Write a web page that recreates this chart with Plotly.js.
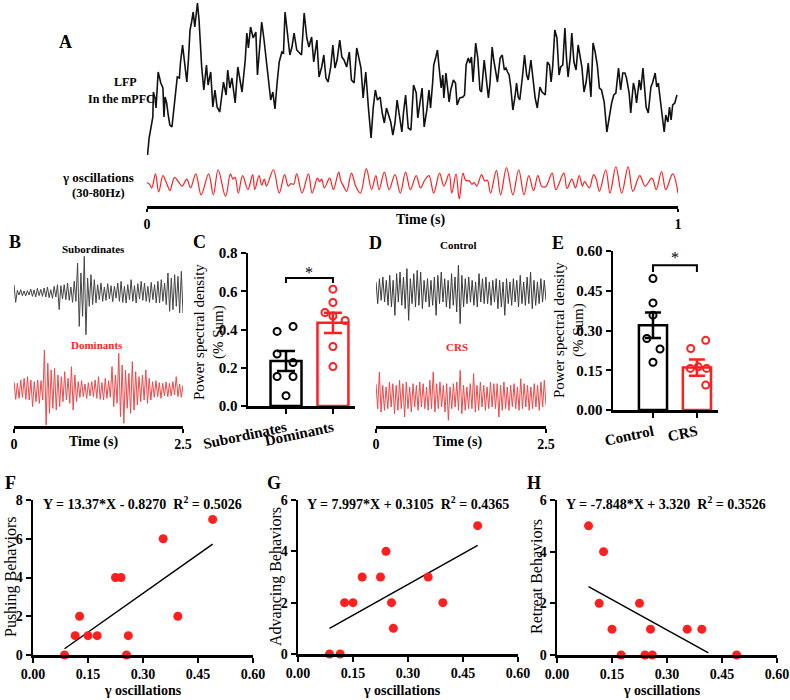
<!DOCTYPE html>
<html><head><meta charset="utf-8">
<script src="https://cdn.plot.ly/plotly-3.0.1.min.js"></script>
<style>body{margin:0;background:#fff}#chart{width:790px;height:700px}</style>
</head><body><div id="chart"></div>
<script>
// ---------- Panel A : LFP (time in ms, amplitude in a.u.) ----------
const lfpTimeMs = [
1,4,11,12,15,17,21,26,30,32,34,37,40,43,47,50,57,61,63,67,
70,75,78,81,84,87,90,95,98,103,107,112,115,120,124,128,132,137,144,149,
152,156,160,166,171,175,179,185,188,191,195,200,205,208,211,216,220,225,228,233,
237,241,245,249,254,257,260,264,269,273,277,282,287,291,296,301,305,310,314,320,
324,329,333,337,341,346,350,354,358,363,367,371,376,381,385,390,395,399,403,407,
412,417,422,426,430,434,439,443,447,451,454,459,463,467,471,475,480,483,487,492,
497,
502,507,510,514,518,522,527,531,534,538,540,544,547,550,554,557,559,563,566,569,
572,577,581,584,589,595,598,601,605,608,611,614,619,623,627,630,635,640,643,646,
650,653,657,660,665,669,673,676,679,682,685,689,693,696,699,702,707,711,715,718,
723,726,731,735,740,744,750,754,758,761,764,768,772,776,779,783,787,790,793,797,
800,804,808,812,815,819,823,827,831,836,840,844,848,852,856,861,866,870,875,879,
883,888,892,896,900,903,908,911,916,919,922,927,930,934,937,940,944,949,952,957,
960,963,966,970,974,977,981,984,987,990,994,998];
const lfpAmp = [
5,22,43,68,62,52,88,77,72,43,63,57,45,35,33,47,83,82,97,115,
102,78,100,130,138,148,133,157,140,93,70,95,75,88,53,70,53,48,78,65,
90,72,82,57,93,80,68,100,127,112,133,122,128,85,107,138,122,100,82,60,
68,51,77,98,108,107,148,128,105,113,127,110,107,105,147,122,113,123,98,120,
83,93,105,82,78,93,115,92,100,120,103,100,93,108,80,77,112,100,92,62,
88,52,22,52,70,60,63,47,37,52,47,38,25,37,60,47,28,47,65,32,
30,
75,67,42,58,72,33,50,70,52,78,95,103,110,93,72,85,62,87,72,58,
70,80,77,55,62,63,65,95,102,97,103,78,117,102,70,68,100,73,62,77,
113,100,85,78,102,105,90,92,88,85,73,50,63,77,63,60,83,105,85,80,
100,87,62,52,73,68,65,98,95,78,93,130,122,85,93,95,132,102,83,102,
127,98,90,115,107,93,68,78,97,63,117,108,95,72,70,58,28,42,57,65,
67,92,70,87,87,82,67,47,77,70,57,80,70,92,73,53,47,73,77,87,
73,77,63,47,28,45,38,53,40,55,57,65];

// ---------- Panel A : gamma oscillations 30-80 Hz ----------
const gammaTimeMs = [
0,5,9,16,22,30,35,39,43,52,59,66,75,82,92,102,116,125,134,148,
157,162,166,172,180,190,199,203,211,216,221,225,238,249,259,266,271,276,282,292,
304,311,321,325,329,334,344,351,361,365,370,376,385,393,402,413,423,431,437,447,
456,467,477,487,496,507,515,523,531,540,551,559,569,574,582,588,595,600,607,612,
616,621,630,636,641,647,658,666,677,689,700,710,719,728,736,743,748,752,763,770,
785,791,800,807,814,820,824,833,841,846,852,864,872,883,894,906,915,928,938,951,
959,969,977,990,1000];
const gammaAmp = [
5,0,-10,30,-22,25,10,-5,-18,20,8,-5,15,-10,30,-30,30,-30,42,-35,
30,15,20,-25,25,-15,28,-15,25,-2,15,-5,42,-25,28,-5,2,0,30,-25,
30,-25,18,8,15,-10,18,-15,35,10,-5,-20,32,-5,-25,45,-15,25,-15,35,
-15,28,-25,35,-15,25,-10,12,25,-25,32,-5,30,-25,30,-42,32,12,10,0,
5,-5,28,10,12,-25,40,-30,48,-30,42,-30,25,-18,25,-5,-8,-5,32,-15,
32,-12,15,-10,25,-5,8,-10,28,15,-20,42,-25,50,-25,50,-20,25,-5,18,
-15,37,-15,30,-25];

// ---------- Panels B and D : example gamma traces (0-2.5 s) ----------
const traceDurationS = 2.5;
const subordinatesTrace = [
25,-28, 8,-6,10,-8,6,-9,7,-6, 12,-10,9,-12,14,-8,11,-10, 15,-12,18,-14,10,-16,20,-12,
25,-50,22,-18, 25,-20,30,-22,18,-28,35,-25, 90,-100,60, -70,110,-125,
45,-40,55,-35,40,-30, 25,-20,30,-25,18,-22,28,-18,22,-26,20,-15,
30,-25,35,-28,20,-30,25,-20, 40,-25,22,-30,28,-18,35,-22, 30,-25,20,-28,32,-20,25,-30,
35,-30,40,-25,30,-35, 60,-55, 45,-50,55,-40,50,-60,65,-60];
const dominantsTrace = [
25,-28,20,-25,30,-22, 35,-28,40,-30, 30,-50,25,-35,30,-40,28,-30, 120,-105,80,
-70,60,-55,65,-60,45,-50, 40,-35,55,-30,35,-40, 70,-60,45,-35,
25,-22,28,-20,18,-25,22,-18,25,-20, 30,-25,40,-28,22,-30,35,-25,28,-22,
70,-50,45,-40, 110,-80,75,-100, 60,-55,50,-70,85,-60,55,-45, 40,-35,45,-30,60,-40,35,-30,
25,-22,28,-20,22,-25,20,-18,24,-20, 20,-18,25,-15,40,-20,18,-22,15];
const controlTrace = [
30,-35,40,-25,45,-30,35,-40, 50,-45,35,-70,55,-30,60,-40, 45,-50,70,-85,40,-35,55,-45,
65,-40,60,-50,35,-30,40,-45, 35,-40,45,-70,50,-35,60,-30, 40,-45,35,-50,55,-40,45,-60,
80,-95,50,-45,40,-35,45,-30, 35,-40,30,-45,55,-30,40,-35, 45,-35,30,-40,35,-30,40,-50,
35,-45,30,-70,40,-35,30,-40, 40,-30,35,-45,50,-35,30,-40, 45,-35,60,-50,35,-40,30,-35,
40,-30,35,-25];
const crsTrace = [
40,-35,75,-45,35,-40,30,-35, 45,-30,40,-50,35,-40,50,-35, 40,-60,45,-35,30,-45,40,-30,
35,-40,45,-30,40,-35,30,-40, 50,-35,75,-45,40,-35,45,-30, 35,-45,40,-70,30,-35,40,-30,
45,-40,80,-50,35,-40,30,-35, 40,-35,70,-45,35,-40,45,-30, 35,-40,30,-35,45,-30,40,-35,
40,-60,35,-40,45,-35,30,-40, 35,-30,40,-35,30,-40,55,-35, 40,-30,35,-40,30,-35,40,-30,
35,-40,45,-30,50,-25];

// ---------- Panel C ----------
const groupsC = ['Subordinates', 'Dominants'];
const meanC = [0.235, 0.435];
const semC = [0.052, 0.053];
const pointsSub = [0.39, 0.416, 0.272, 0.227, 0.154, 0.154, 0.054];
const pointsDom = [0.611, 0.541, 0.489, 0.47, 0.447, 0.311, 0.206];

// ---------- Panel E ----------
const groupsE = ['Control', 'CRS'];
const meanE = [0.32, 0.16];
const semE = [0.048, 0.031];
const pointsControl = [0.496, 0.404, 0.358, 0.27, 0.23, 0.18];
const pointsCRS = [0.232, 0.263, 0.157, 0.163, 0.157, 0.094];

// ---------- Panels F, G, H ----------
const gammaOsc = [0.086, 0.115, 0.127, 0.15, 0.175, 0.225, 0.24, 0.255, 0.26, 0.355, 0.395, 0.49];
const pushing = [0, 1, 2, 1, 1, 4, 4, 0, 1, 6, 2, 7];
const advancing = [0, 0, 2, 2, 3, 3, 4, 2, 1, 3, 2, 5];
const retreat = [5, 2, 4, 1, 0, 2, 0, 1, 0, 1, 1, 0];
const fitSlope = [13.37, 7.997, -7.848];
const fitIntercept = [-0.8270, 0.3105, 3.320];
const fitXEnd = [0.49, 0.49, 0.413];
const eqLabels = ['Y = 13.37*X - 0.8270  R<sup>2</sup> = 0.5026',
                  'Y = 7.997*X + 0.3105  R<sup>2</sup> = 0.4365',
                  'Y = -7.848*X + 3.320  R<sup>2</sup> = 0.3526'];
const behaviorTitles = ['Pushing Behaviors', 'Advancing Behaviors', 'Retreat Behaviors'];

// ---------- layout helpers (style only) ----------
const W = 790, H = 700;
const PX = p => p / W;
const PY = p => 1 - p / H;
const SERIF = 'Liberation Serif, Times New Roman, serif';
const RED = '#ff1f1f';
const jitterSub = [-0.19, 0.15, -0.19, 0.15, -0.19, 0.15, 0];
const jitterDom = [0, 0, -0.17, 0, 0.26, 0, 0];
const jitterControl = [0, 0, 0, -0.14, 0.16, 0];
const jitterCRS = [-0.14, 0.2, -0.15, 0.03, 0.22, 0.2];

const sampleTimes = arr => arr.map((_, i) => i * traceDurationS / (arr.length - 1));

const traces = [];
traces.push({type:'scatter', mode:'lines', x: lfpTimeMs.map(t => t/1000), y: lfpAmp,
  xaxis:'x', yaxis:'y', line:{color:'#111', width:1.6}, hoverinfo:'skip'});
traces.push({type:'scatter', mode:'lines', x: gammaTimeMs.map(t => t/1000), y: gammaAmp,
  xaxis:'x', yaxis:'y2', line:{color:RED, width:1.2, shape:'spline', smoothing:1}, hoverinfo:'skip'});

traces.push({type:'scatter', mode:'lines', x: sampleTimes(subordinatesTrace), y: subordinatesTrace,
  xaxis:'x2', yaxis:'y3', line:{color:'#444', width:1}});
traces.push({type:'scatter', mode:'lines', x: sampleTimes(dominantsTrace), y: dominantsTrace,
  xaxis:'x2', yaxis:'y4', line:{color:'#f04848', width:1}});
traces.push({type:'scatter', mode:'lines', x: sampleTimes(controlTrace), y: controlTrace,
  xaxis:'x4', yaxis:'y6', line:{color:'#3a3a3a', width:1}});
traces.push({type:'scatter', mode:'lines', x: sampleTimes(crsTrace), y: crsTrace,
  xaxis:'x4', yaxis:'y7', line:{color:'#f04848', width:1}});

function barPanel(means, sems, pts, jit, xa, ya, bw, capW) {
  const cols = ['#000', RED];
  means.forEach((m, i) => {
    traces.push({type:'bar', x:[i], y:[m], width:bw, xaxis:xa, yaxis:ya,
      marker:{color:'rgba(255,255,255,0)', line:{color:cols[i], width:2.5}},
      error_y:{type:'data', array:[sems[i]], visible:true, color:cols[i], thickness:2.5, width:capW}});
  });
  pts.forEach((p, i) => {
    traces.push({type:'scatter', mode:'markers', x: p.map((_, k) => i + jit[i][k]), y: p,
      xaxis:xa, yaxis:ya, cliponaxis:false,
      marker:{symbol:'circle-open', size:7, color:cols[i], line:{width:2, color:cols[i]}}});
  });
}
barPanel(meanC, semC, [pointsSub, pointsDom], [jitterSub, jitterDom], 'x3', 'y5', 0.66, 9);
barPanel(meanE, semE, [pointsControl, pointsCRS], [jitterControl, jitterCRS], 'x5', 'y8', 0.64, 8);

const behaviors = [pushing, advancing, retreat];
const xMin = Math.min(...gammaOsc);
behaviors.forEach((b, i) => {
  const xa = 'x' + (6 + i), ya = 'y' + (9 + i);
  traces.push({type:'scatter', mode:'lines', x:[xMin, fitXEnd[i]],
    y:[fitSlope[i]*xMin + fitIntercept[i], fitSlope[i]*fitXEnd[i] + fitIntercept[i]],
    xaxis:xa, yaxis:ya, line:{color:'#000', width:1.5}});
  traces.push({type:'scatter', mode:'markers', x:gammaOsc, y:b, xaxis:xa, yaxis:ya,
    cliponaxis:false, marker:{color:RED, size:9}});
});

const tf = (s) => ({family:SERIF, size:s, color:'#000', weight:'bold'});
const hidden = (dom, rng, anchor) => ({domain:dom, range:rng, visible:false, anchor:anchor, fixedrange:true});
const timeAxis = (dom, pos, rng, vals, txt, lw, tl) => ({domain:dom, range:rng, anchor:'free', position:pos,
  showline:true, linecolor:'#000', linewidth:lw, ticks:'outside', tickvals:vals, ticktext:txt,
  ticklen:tl, tickwidth:2.5, tickcolor:'#000', tickfont:tf(14), showgrid:false, zeroline:false, fixedrange:true});
const catX = (dom, rng, anchor, labels) => ({domain:dom, range:rng, anchor:anchor, showline:true,
  linecolor:'#000', linewidth:2.5, ticks:'outside', ticklen:5, tickwidth:2, tickcolor:'#000',
  tickvals:[0,1], ticktext:labels, tickangle:-12, tickfont:tf(15), showgrid:false, zeroline:false, fixedrange:true});
const numAxis = (dom, rng, anchor, dt, fmt, fs) => ({domain:dom, range:rng, anchor:anchor, showline:true,
  linecolor:'#000', linewidth:2.5, ticks:'outside', ticklen:5, tickwidth:2, tickcolor:'#000',
  dtick:dt, tick0:0, tickformat:fmt, tickfont:tf(fs), showgrid:false, zeroline:false, fixedrange:true});

const layout = {
  width:W, height:H, margin:{l:0, r:0, t:0, b:0}, showlegend:false, hovermode:false,
  paper_bgcolor:'#fff', plot_bgcolor:'rgba(0,0,0,0)', barmode:'overlay',
  xaxis: timeAxis([PX(147), PX(678)], PY(207), [0, 1], [0, 1], ['0', '1'], 3, 3),
  yaxis: hidden([PY(160), PY(0)], [0, 160], 'x'),
  yaxis2: hidden([PY(200), PY(160)], [-45, 70], 'x'),
  xaxis2: timeAxis([PX(14), PX(183)], PY(427), [0, traceDurationS], [0, 2.5], ['0', '2.5'], 2.5, 4),
  yaxis3: hidden([PY(340), PY(250)], [-141, 129], 'x2'),
  yaxis4: hidden([PY(427), PY(345)], [-111, 135], 'x2'),
  xaxis3: catX([PX(248), PX(355)], [-0.81, 1.47], 'y5', groupsC),
  yaxis5: numAxis([PY(406), PY(253)], [0, 0.8], 'x3', 0.2, '.1f', 15),
  xaxis4: timeAxis([PX(376), PX(546)], PY(427), [0, traceDurationS], [0, 2.5], ['0', '2.5'], 2.5, 4),
  yaxis6: hidden([PY(340), PY(250)], [-144, 126], 'x4'),
  yaxis7: hidden([PY(427), PY(345)], [-90, 156], 'x4'),
  xaxis5: catX([PX(613), PX(718)], [-0.91, 1.48], 'y8', groupsE),
  yaxis8: numAxis([PY(410), PY(251)], [0, 0.6], 'x5', 0.15, '.2f', 15),
  xaxis6: numAxis([PX(33), PX(253)], [0, 0.6], 'y9', 0.15, '.2f', 14),
  yaxis9: numAxis([PY(655), PY(500)], [0, 8], 'x6', 2, 'd', 14),
  xaxis7: numAxis([PX(298), PX(518)], [0, 0.6], 'y10', 0.15, '.2f', 14),
  yaxis10: numAxis([PY(654), PY(500)], [0, 6], 'x7', 2, 'd', 14),
  xaxis8: numAxis([PX(557), PX(777)], [0, 0.6], 'y11', 0.15, '.2f', 14),
  yaxis11: numAxis([PY(655), PY(500)], [0, 6], 'x8', 2, 'd', 14),
  shapes: [
    {type:'path', xref:'x3', yref:'y5', path:'M0,0.643 L0,0.669 L1,0.669 L1,0.643', line:{color:'#000', width:2}},
    {type:'path', xref:'x5', yref:'y8', path:'M0,0.521 L0,0.546 L1,0.546 L1,0.521', line:{color:'#000', width:2}}
  ],
  annotations: []
};

function note(text, px, py, size, opts) {
  opts = opts || {};
  layout.annotations.push({text:text, xref:'paper', yref:'paper', x:PX(px), y:PY(py),
    xanchor:opts.xanchor || 'center', yanchor:'middle', showarrow:false, textangle:opts.angle || 0,
    font:{family:SERIF, size:size, color:opts.color || '#000', weight:opts.normal ? 'normal' : 'bold'}});
}
note('A', 65, 42, 18);
note('LFP', 126, 82, 12);
note('In the mPFC', 122, 99, 12);
note('γ oscillations', 98, 177, 13);
note('(30-80Hz)', 98, 193, 12.5);
note('Time (s)', 421, 220, 14);
note('B', 15, 242, 18);
note('Subordinates', 93, 249, 11);
note('Dominants', 97, 345, 11, {color:RED});
note('Time (s)', 93, 442, 14);
note('C', 199, 242, 18);
note('Power spectral density', 199, 332, 15, {angle:-90, normal:true});
note('(% Sum)', 218, 332, 15, {angle:-90, normal:true});
note('D', 375, 243, 18);
note('Control', 458, 245, 11);
note('CRS', 457, 347, 11, {color:RED});
note('Time (s)', 457, 442, 14);
note('E', 558, 243, 18);
note('Power spectral density', 559, 330, 15, {angle:-90, normal:true});
note('(% Sum)', 578, 330, 15, {angle:-90, normal:true});
layout.annotations.push({text:'*', xref:'x3', yref:'y5', x:0.5, y:0.70, showarrow:false,
  font:{family:SERIF, size:16, color:'#000'}});
layout.annotations.push({text:'*', xref:'x5', yref:'y8', x:0.5, y:0.575, showarrow:false,
  font:{family:SERIF, size:16, color:'#000'}});

const letters = ['F', 'G', 'H'];
const letterX = [10, 274, 534];
const eqX = [142, 408, 666];
const yTitleX = [11, 276, 536];
const xTitleX = [143, 402, 662];
letters.forEach((L, i) => {
  note(L, letterX[i], 483, 18);
  note(eqLabels[i], eqX[i], 503, 14);
  note(behaviorTitles[i], yTitleX[i], 577, 16, {angle:-90, normal:true});
  note('γ oscillations', xTitleX[i], 690, 14);
});

Plotly.newPlot('chart', traces, layout, {staticPlot:true});
</script>
</body></html>
